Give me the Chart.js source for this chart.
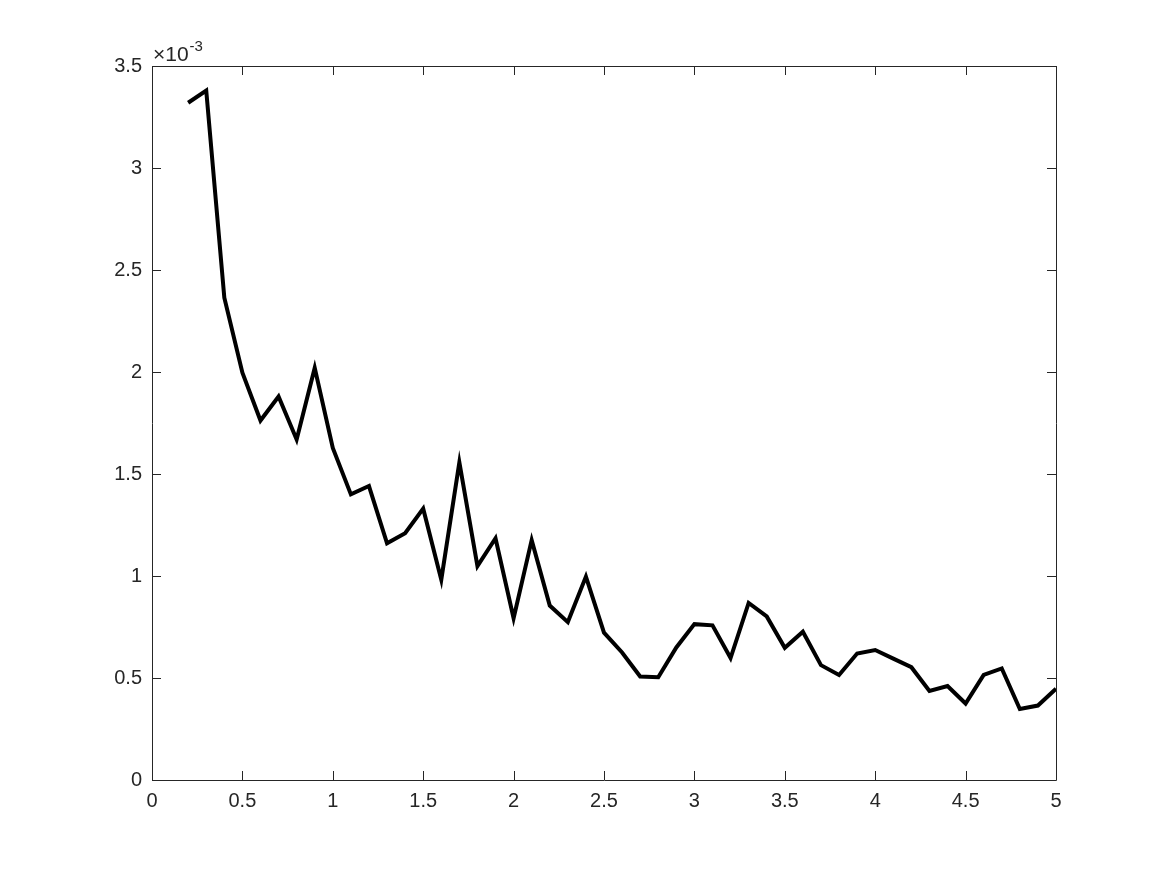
<!DOCTYPE html>
<html lang="en">
  <head>
    <meta charset="UTF-8" />
    <title>Decay curve</title>
    <script src="https://cdn.jsdelivr.net/npm/chart.js"></script>
    <style>
      html, body { margin: 0; padding: 0; background: #fff; }
      #wrap { width: 1167px; height: 875px; }
    </style>
  </head>
  <body>
    <div id="wrap"><canvas id="chart" width="1167" height="875"></canvas></div>
    <script>
      // x positions (0.2 .. 5.0, step 0.1)
      const xValues = [
        0.2, 0.3, 0.4, 0.5, 0.6, 0.7, 0.8, 0.9, 1.0, 1.1,
        1.2, 1.3, 1.4, 1.5, 1.6, 1.7, 1.8, 1.9, 2.0, 2.1,
        2.2, 2.3, 2.4, 2.5, 2.6, 2.7, 2.8, 2.9, 3.0, 3.1,
        3.2, 3.3, 3.4, 3.5, 3.6, 3.7, 3.8, 3.9, 4.0, 4.1,
        4.2, 4.3, 4.4, 4.5, 4.6, 4.7, 4.8, 4.9, 5.0
      ];
      // values (units of 1e-3)
      const yValues = [
        3.32, 3.38, 2.364, 1.997, 1.762, 1.880, 1.669, 2.020, 1.628, 1.400,
        1.441, 1.160, 1.210, 1.330, 0.982, 1.557, 1.048, 1.185, 0.793, 1.176,
        0.855, 0.774, 0.997, 0.722, 0.625, 0.507, 0.504, 0.650, 0.764, 0.758,
        0.598, 0.868, 0.802, 0.648, 0.727, 0.563, 0.515, 0.620, 0.637, 0.595,
        0.553, 0.437, 0.461, 0.375, 0.515, 0.547, 0.348, 0.365, 0.447
      ];
      const yScaleFactor = 1e-3;
      const xTicks = [0, 0.5, 1, 1.5, 2, 2.5, 3, 3.5, 4, 4.5, 5];
      const yTicks = [0, 0.5, 1, 1.5, 2, 2.5, 3, 3.5];

      const axisColor = "#262626";
      const fontFamily = "'Liberation Sans', Arial, Helvetica, sans-serif";

      const points = xValues.map((x, i) => ({ x: x, y: yValues[i] * yScaleFactor }));

      // box + inward ticks + exponent label, MATLAB style
      const boxPlugin = {
        id: "boxPlugin",
        afterDraw(chart) {
          const ctx = chart.ctx;
          const a = chart.chartArea;
          const xs = chart.scales.x;
          const ys = chart.scales.y;
          const tick = 9;
          ctx.save();
          ctx.strokeStyle = axisColor;
          ctx.lineWidth = 1;
          ctx.beginPath();
          ctx.rect(a.left + 0.5, a.top + 0.5, a.right - a.left, a.bottom - a.top);
          xTicks.forEach((v) => {
            const px = Math.round(xs.getPixelForValue(v)) + 0.5;
            ctx.moveTo(px, a.bottom);
            ctx.lineTo(px, a.bottom - tick);
            ctx.moveTo(px, a.top);
            ctx.lineTo(px, a.top + tick);
          });
          yTicks.forEach((v) => {
            const py = Math.round(ys.getPixelForValue(v * yScaleFactor)) + 0.5;
            ctx.moveTo(a.left, py);
            ctx.lineTo(a.left + tick, py);
            ctx.moveTo(a.right, py);
            ctx.lineTo(a.right - tick, py);
          });
          ctx.stroke();

          // exponent label
          ctx.fillStyle = axisColor;
          ctx.textBaseline = "alphabetic";
          ctx.textAlign = "left";
          ctx.font = "21px " + fontFamily;
          const baseX = a.left + 1;
          const baseY = a.top - 5;
          ctx.fillText("\u00d710", baseX, baseY);
          const w = ctx.measureText("\u00d710").width;
          ctx.font = "15px " + fontFamily;
          ctx.fillText("-3", baseX + w + 1, baseY - 10);
          ctx.restore();
        },
      };

      new Chart(document.getElementById("chart"), {
        type: "line",
        data: {
          datasets: [
            {
              data: points,
              borderColor: "#000000",
              borderWidth: 4,
              borderJoinStyle: "miter",
              borderCapStyle: "butt",
              pointRadius: 0,
              fill: false,
              tension: 0,
            },
          ],
        },
        options: {
          responsive: false,
          animation: false,
          events: [],
          layout: { padding: { top: 66, right: 111, left: 0, bottom: 0 } },
          plugins: { legend: { display: false }, tooltip: { enabled: false } },
          scales: {
            x: {
              type: "linear",
              min: 0,
              max: 5,
              afterBuildTicks: (s) => { s.ticks = xTicks.map((v) => ({ value: v })); },
              afterFit: (s) => { s.height = 95; },
              grid: { display: false, drawTicks: false },
              border: { display: false },
              ticks: {
                color: axisColor,
                padding: 9,
                maxRotation: 0,
                font: { family: fontFamily, size: 20 },
                callback: (v) => String(v),
              },
            },
            y: {
              type: "linear",
              min: 0,
              max: 3.5 * yScaleFactor,
              afterBuildTicks: (s) => { s.ticks = yTicks.map((v) => ({ value: v * yScaleFactor })); },
              afterFit: (s) => { s.width = 152; },
              grid: { display: false, drawTicks: false },
              border: { display: false },
              ticks: {
                color: axisColor,
                padding: 10,
                font: { family: fontFamily, size: 20 },
                callback: (v) => String(Math.round(v / yScaleFactor * 10) / 10),
              },
            },
          },
        },
        plugins: [boxPlugin],
      });
    </script>
  </body>
</html>
